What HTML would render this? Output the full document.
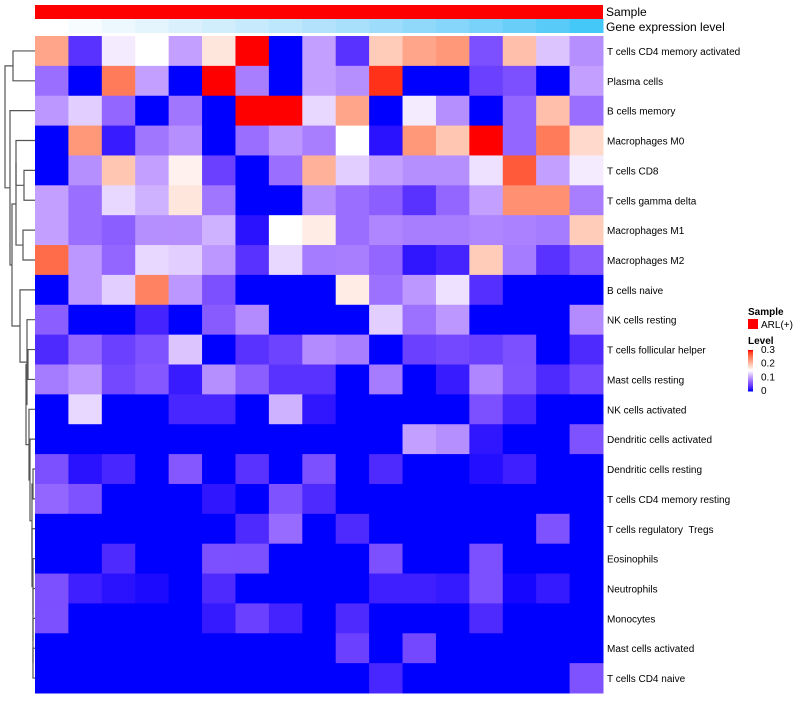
<!DOCTYPE html>
<html><head><meta charset="utf-8"><style>
body{margin:0;background:#fff;}
svg text{font-family:"Liberation Sans",sans-serif;white-space:pre;}
</style></head><body>
<svg id="chart" width="800" height="700" xmlns="http://www.w3.org/2000/svg"></svg>
<script>
const rowLabels=["T cells CD4 memory activated","Plasma cells","B cells memory","Macrophages M0","T cells CD8","T cells gamma delta","Macrophages M1","Macrophages M2","B cells naive","NK cells resting","T cells follicular helper","Mast cells resting","NK cells activated","Dendritic cells activated","Dendritic cells resting","T cells CD4 memory resting","T cells regulatory  Tregs","Eosinophils","Neutrophils","Monocytes","Mast cells activated","T cells CD4 naive"];
const geneLevel=[0,1,2,3,4,5,6,7,8,9,10,11,12,13,14,15,16];
const values=[
[0.22,0.03,0.14,0.15,0.10,0.17,0.3,0,0.10,0.03,0.19,0.22,0.23,0.05,0.2,0.12,0.09],
[0.07,0,0.25,0.10,0,0.3,0.08,0,0.10,0.09,0.29,0,0,0.04,0.05,0,0.10],
[0.095,0.125,0.065,0,0.075,0,0.3,0.3,0.13,0.22,0,0.14,0.09,0,0.065,0.2,0.07],
[0,0.23,0.015,0.075,0.09,0,0.07,0.095,0.08,0.15,0.01,0.23,0.195,0.3,0.065,0.25,0.18],
[0,0.09,0.195,0.10,0.16,0.04,0,0.07,0.21,0.125,0.10,0.09,0.09,0.135,0.27,0.10,0.14],
[0.10,0.07,0.13,0.11,0.17,0.075,0,0,0.09,0.07,0.06,0.03,0.065,0.10,0.235,0.235,0.08],
[0.10,0.07,0.06,0.09,0.09,0.11,0.01,0.15,0.165,0.07,0.085,0.08,0.08,0.085,0.082,0.078,0.19],
[0.26,0.095,0.065,0.13,0.125,0.095,0.03,0.13,0.078,0.08,0.065,0.012,0.02,0.19,0.078,0.03,0.058],
[0,0.095,0.125,0.245,0.095,0.05,0,0,0,0.165,0.072,0.095,0.135,0.028,0,0,0],
[0.06,0,0,0.02,0,0.058,0.088,0,0,0,0.125,0.072,0.095,0,0,0,0.088],
[0.025,0.065,0.04,0.052,0.12,0,0.03,0.042,0.088,0.08,0,0.04,0.045,0.04,0.05,0,0.025],
[0.078,0.095,0.045,0.056,0.015,0.09,0.06,0.03,0.03,0,0.078,0,0.015,0.085,0.052,0.025,0.045],
[0,0.13,0,0,0.022,0.022,0,0.11,0.012,0,0,0,0,0.05,0.022,0,0],
[0,0,0,0,0,0,0,0,0,0,0,0.10,0.09,0.012,0,0,0.052],
[0.05,0.01,0.022,0,0.056,0,0.03,0,0.05,0,0.025,0,0,0.008,0.018,0,0],
[0.065,0.052,0,0,0,0.012,0,0.052,0.025,0,0,0,0,0,0,0,0],
[0,0,0,0,0,0,0.025,0.068,0,0.025,0,0,0,0,0,0.052,0],
[0,0,0.025,0,0,0.05,0.05,0,0,0,0.05,0,0,0.05,0,0,0],
[0.05,0.018,0.01,0.006,0,0.025,0,0,0,0,0.018,0.018,0.014,0.05,0.004,0.014,0],
[0.05,0,0,0,0,0.014,0.04,0.02,0,0.025,0,0,0,0.025,0,0,0],
[0,0,0,0,0,0,0,0,0,0.04,0,0.045,0,0,0,0,0],
[0,0,0,0,0,0,0,0,0,0,0.022,0,0,0,0,0,0.052]];
const legendTicks=[0,0.1,0.2,0.3];

const NS="http://www.w3.org/2000/svg";
const svg=document.getElementById('chart');
function mk(t,a,p){const e=document.createElementNS(NS,t);for(const k in a)e.setAttribute(k,a[k]);(p||svg).appendChild(e);return e;}
const X0=35,X1=603,Y0=36,Y1=693;
const nC=17,nR=rowLabels.length;
const cw=(X1-X0)/nC,rh=(Y1-Y0)/nR;
const xs=c=>X0+c*cw, ys=r=>Y0+r*rh;
function s2l(c){c/=255;return c<=0.04045?c/12.92:Math.pow((c+0.055)/1.055,2.4);}
function l2s(c){c=c<=0.0031308?12.92*c:1.055*Math.pow(c,1/2.4)-0.055;return Math.max(0,Math.min(255,Math.round(c*255)));}
function toLab(r,g,b){r=s2l(r);g=s2l(g);b=s2l(b);let x=(r*0.4124+g*0.3576+b*0.1805)/0.95047,y=r*0.2126+g*0.7152+b*0.0722,z=(r*0.0193+g*0.1192+b*0.9505)/1.08883;const f=t=>t>0.008856?Math.cbrt(t):7.787*t+16/116;x=f(x);y=f(y);z=f(z);return[116*y-16,500*(x-y),200*(y-z)];}
function fromLab(L,a,b){let y=(L+16)/116,x=a/500+y,z=y-b/200;const fi=t=>t*t*t>0.008856?t*t*t:(t-16/116)/7.787;x=fi(x)*0.95047;y=fi(y);z=fi(z)*1.08883;const r=x*3.2406+y*-1.5372+z*-0.4986,g=x*-0.9689+y*1.8758+z*0.0415,bb=x*0.0557+y*-0.2040+z*1.0570;return`rgb(${l2s(r)},${l2s(g)},${l2s(bb)})`;}
const LB=toLab(0,0,255),LW=toLab(255,255,255),LR=toLab(255,0,0);
function col(v){v=Math.max(0,Math.min(0.3,v));let a,b,t;if(v<0.15){a=LB;b=LW;t=Math.pow(v/0.15,1.3);}else{a=LW;b=LR;t=(v-0.15)/0.15;}return fromLab(a[0]+(b[0]-a[0])*t,a[1]+(b[1]-a[1])*t,a[2]+(b[2]-a[2])*t);}
const GW=toLab(255,255,255),GB=toLab(68,200,248);
function gcol(v){const t=v/16;return fromLab(GW[0]+(GB[0]-GW[0])*t,GW[1]+(GB[1]-GW[1])*t,GW[2]+(GB[2]-GW[2])*t);}

const sb=mk('rect',{x:X0,y:5,width:X1-X0,height:14,fill:'#ff0000'});


geneLevel.forEach((g,c)=>{const r=mk('rect',{x:xs(c),y:19,width:cw+0.5,height:14,fill:gcol(g)});

});
let t=mk('text',{x:606,y:16,'font-size':12,fill:'#000'});t.textContent='Sample';


t=mk('text',{x:606,y:31,'font-size':12,fill:'#000'});t.textContent='Gene expression level';



values.forEach((row,r)=>{row.forEach((v,c)=>{const e=mk('rect',{x:xs(c),y:ys(r),width:cw+0.5,height:rh+0.5,fill:col(v)});

});
const l=mk('text',{x:607,y:ys(r)+rh/2+4,'font-size':10,fill:'#000'});l.textContent=rowLabels[r];

});

const tree=[5,[13,0,1],[10,2,[12,[16,[16,3,[24,4,5]],[23,6,7]],[20,8,[27,9,[26,[28,10,11],[29,12,[30,13,[32,[33,14,15],[32,16,[33,17,[33,18,[33,19,[33,20,21]]]]]]]]]]]]]];
const dg=mk('g',{stroke:'#555','stroke-width':1.2,fill:'none'});


function draw(n){if(typeof n==='number')return{x:35,y:ys(n)+rh/2};const a=draw(n[1]),b=draw(n[2]),x=n[0];
mk('path',{d:`M${a.x},${a.y}H${x}V${b.y}H${b.x}`},dg);return{x:x,y:(a.y+b.y)/2};}
draw(tree);

t=mk('text',{x:748,y:315,'font-size':10,'font-weight':'bold'});t.textContent='Sample';


const sq=mk('rect',{x:748,y:319,width:10,height:10,fill:'#ff0000'});


t=mk('text',{x:761,y:328,'font-size':10});t.textContent='ARL(+)';


t=mk('text',{x:748,y:344,'font-size':10,'font-weight':'bold'});t.textContent='Level';


const LY0=350,LY1=391;
for(let i=0;i<41;i++){const v=0.3*(1-i/40);const e=mk('rect',{x:748,y:LY0+i,width:5,height:1.5,fill:col(v)});

}
legendTicks.forEach(v=>{const y=LY1-(v/0.3)*(LY1-LY0);const e=mk('text',{x:761,y:y+3,'font-size':10});e.textContent=String(v);

});
</script>
</body></html>
